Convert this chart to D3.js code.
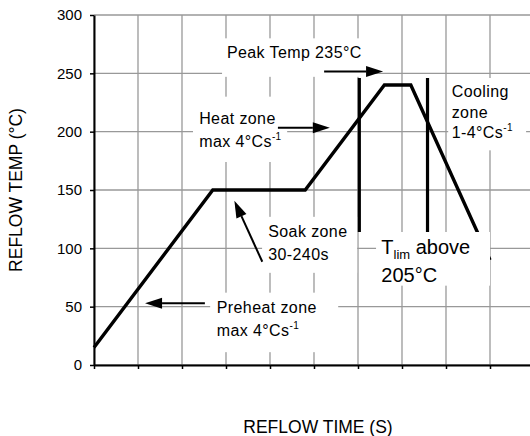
<!DOCTYPE html>
<html>
<head>
<meta charset="utf-8">
<script src="https://cdn.jsdelivr.net/npm/d3@7"></script>
<style>
  body { margin: 0; background: #fff; }
  svg { display: block; font-family: Arial, "Liberation Sans", sans-serif; }
</style>
</head>
<body>
<svg id="chart" width="530" height="436"></svg>
<script>
// Axis ticks
const tempTicks = [0, 50, 100, 150, 200, 250, 300];
const timeTicks = [0, 1, 2, 3, 4, 5, 6, 7, 8, 9, 10];

// Reflow profile (time in grid steps, temperature in °C)
const profileTime = [0, 2.7, 4.8, 6.6, 7.2, 9.0];
const profileTemp = [15, 150, 150, 240, 240, 90];

// Time-above-liquidus markers
const limitTime = [6.03, 7.58];
const limitTempRange = [114, 246];

// Annotation boxes: [time0, time1, tempTop, tempBottom]
const boxes = [
  [2.91, 6.32, 280, 247],   // peak
  [2.25, 4.39, 230, 174],   // heat
  [8.05, 9.82, 246, 184],   // cooling
  [3.82, 5.98, 127, 79],    // soak
  [6.41, 9.00, 114, 68],    // T lim
  [2.64, 5.55, 62, 11]      // preheat
];

// Annotation text lines: [time, baseline temp, size, segments]
const labelLines = [
  [3.02, 263, 16, [["Peak Temp 235°C", ""]]],
  [2.39, 207, 16, [["Heat zone", ""]]],
  [2.39, 186.5, 16, [["max 4°Cs", ""], ["-1", "sup"]]],
  [8.13, 230, 16, [["Cooling", ""]]],
  [8.13, 212, 16, [["zone", ""]]],
  [8.13, 195, 16, [["1-4°Cs", ""], ["-1", "sup"]]],
  [3.96, 110, 16, [["Soak zone", ""]]],
  [3.96, 90, 16, [["30-240s", ""]]],
  [6.53, 95, 20, [["T", ""], ["lim", "sub"], [" above", "back"]]],
  [6.53, 71.5, 20, [["205°C", ""]]],
  [2.79, 44.5, 16, [["Preheat zone", ""]]],
  [2.79, 24.5, 16, [["max 4°Cs", ""], ["-1", "sup"]]]
];

// Arrows: [tailTime, tailTemp, tipTime, tipTemp]
const arrows = [
  [5.23, 251.5, 6.57, 251.5],
  [4.18, 203.4, 5.36, 203.4],
  [3.825, 88.5, 3.19, 140.8],
  [2.52, 53, 1.16, 53]
];

const svg = d3.select("#chart");
const x = d3.scaleLinear().domain([0, 10]).range([94, 534]);
const y = d3.scaleLinear().domain([0, 300]).range([365, 15]);

// Grid
const grid = svg.append("g").attr("stroke", "#999").attr("stroke-width", 1.3);
grid.selectAll("line.h").data(tempTicks).join("line")
  .attr("x1", x(0)).attr("x2", x(10))
  .attr("y1", d => y(d)).attr("y2", d => y(d));
grid.selectAll("line.v").data(timeTicks).join("line")
  .attr("x1", d => x(d)).attr("x2", d => x(d))
  .attr("y1", y(300)).attr("y2", y(0));

// Profile
const line = d3.line().x(d => x(d[0])).y(d => y(d[1]));
svg.append("path")
  .datum(profileTime.map((t, i) => [t, profileTemp[i]]))
  .attr("d", line)
  .attr("fill", "none").attr("stroke", "#000").attr("stroke-width", 3.4)
  .attr("stroke-linejoin", "miter");

// Liquidus markers
svg.selectAll("line.lim").data(limitTime).join("line")
  .attr("x1", d => x(d)).attr("x2", d => x(d))
  .attr("y1", y(limitTempRange[1])).attr("y2", y(limitTempRange[0]))
  .attr("stroke", "#000").attr("stroke-width", 3.2);

// Label backgrounds
svg.selectAll("rect.box").data(boxes).join("rect")
  .attr("x", d => x(d[0])).attr("width", d => x(d[1]) - x(d[0]))
  .attr("y", d => y(d[2])).attr("height", d => y(d[3]) - y(d[2]))
  .attr("fill", "#fff");

// Label text
labelLines.forEach(([t, temp, size, segs]) => {
  const txt = svg.append("text")
    .attr("x", x(t)).attr("y", y(temp))
    .attr("font-size", size)
    .attr("letter-spacing", size === 16 ? 0.4 : 0)
    .attr("fill", "#000");
  segs.forEach(([s, kind]) => {
    const ts = txt.append("tspan").text(s);
    if (kind === "sup") ts.attr("font-size", 10).attr("dy", -7);
    if (kind === "sub") ts.attr("font-size", 13).attr("dy", 5);
    if (kind === "back") ts.attr("dy", -5);
  });
});

// Arrows
const head = 17, half = 5.5;
arrows.forEach(([t0, v0, t1, v1]) => {
  const x0 = x(t0), y0 = y(v0), x1 = x(t1), y1 = y(v1);
  const ang = Math.atan2(y1 - y0, x1 - x0);
  const bx = x1 - head * Math.cos(ang), by = y1 - head * Math.sin(ang);
  svg.append("line")
    .attr("x1", x0).attr("y1", y0).attr("x2", bx).attr("y2", by)
    .attr("stroke", "#000").attr("stroke-width", 2);
  const px = -Math.sin(ang) * half, py = Math.cos(ang) * half;
  svg.append("path")
    .attr("d", `M${x1},${y1}L${bx + px},${by + py}L${bx - px},${by - py}Z`)
    .attr("fill", "#000");
});

// Axes
const yAxis = svg.append("g").attr("transform", `translate(${x(0)},0)`)
  .call(d3.axisLeft(y).tickValues(tempTicks).tickSize(4).tickSizeOuter(0).tickPadding(8));
const xAxis = svg.append("g").attr("transform", `translate(0,${y(0)})`)
  .call(d3.axisBottom(x).tickValues(timeTicks).tickSize(4).tickSizeOuter(0).tickFormat(""));
[yAxis, xAxis].forEach(g => {
  g.select(".domain").attr("stroke", "#000").attr("stroke-width", 2);
  g.selectAll(".tick line").attr("stroke", "#000").attr("stroke-width", 1.5);
  g.selectAll(".tick text").attr("font-size", 15).attr("fill", "#000")
    .attr("font-family", "Arial, 'Liberation Sans', sans-serif");
});

// Axis titles
svg.append("text")
  .attr("transform", "translate(21.5,190) rotate(-90)")
  .attr("text-anchor", "middle").attr("font-size", 17.5)
  .text("REFLOW TEMP (°C)");
svg.append("text")
  .attr("x", 318).attr("y", 433)
  .attr("text-anchor", "middle").attr("font-size", 17.5)
  .text("REFLOW TIME (S)");
</script>
</body>
</html>
